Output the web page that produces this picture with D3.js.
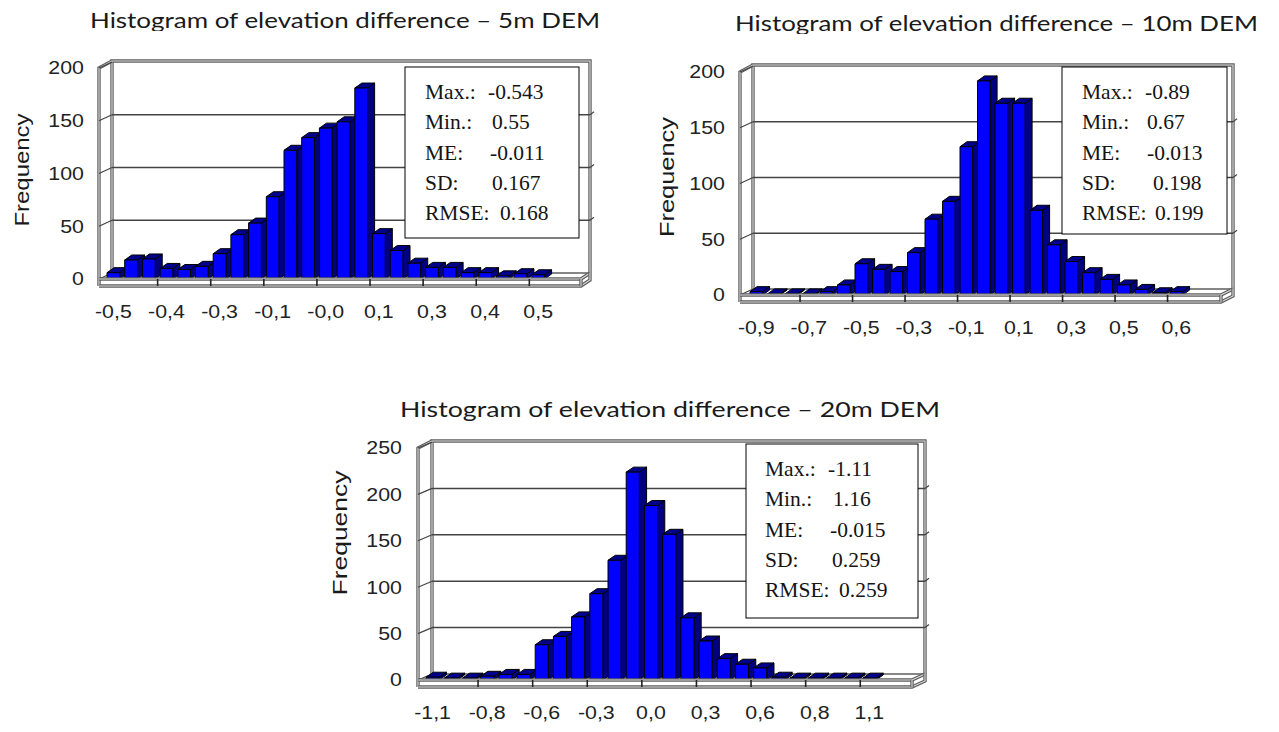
<!DOCTYPE html>
<html><head><meta charset="utf-8">
<script src="https://cdn.jsdelivr.net/npm/d3@7"></script>
<style>body{margin:0;background:#fff;overflow:hidden} svg{display:block}</style>
</head><body><svg id="c" width="1279" height="732"></svg>
<script>
// ---------- DATA ----------
const binIndex = d3.range(25);
const values5m  = [6,18,19,10,9,12,24,42,53,78,122,134,143,149,181,43,27,15,11,11,6,6,3,5,4];
const values10m = [3,1,1,1,3,9,28,23,21,38,68,84,133,192,172,172,76,45,30,20,14,9,5,2,3];
const values20m = [3,2,2,4,6,6,38,47,68,93,129,224,188,157,67,42,23,17,13,3,2,2,2,2,2];
const xLabels5m  = ["-0,5","-0,4","-0,3","-0,1","-0,0","0,1","0,3","0,4","0,5"];
const xLabels10m = ["-0,9","-0,7","-0,5","-0,3","-0,1","0,1","0,3","0,5","0,6"];
const xLabels20m = ["-1,1","-0,8","-0,6","-0,3","0,0","0,3","0,6","0,8","1,1"];
const yTicks5m  = [0,50,100,150,200];
const yTicks10m = [0,50,100,150,200];
const yTicks20m = [0,50,100,150,200,250];
const statNames = ["Max.:","Min.:","ME:","SD:","RMSE:"];
const stats5m  = ["-0.543","0.55","-0.011","0.167","0.168"];
const stats10m = ["-0.89","0.67","-0.013","0.198","0.199"];
const stats20m = ["-1.11","1.16","-0.015","0.259","0.259"];
const titles = ["Histogram of elevation difference \u2013 5m DEM",
                "Histogram of elevation difference \u2013 10m DEM",
                "Histogram of elevation difference \u2013 20m DEM"];
const yAxisTitle = "Frequency";

// ---------- LAYOUT ----------
const layouts = [
  {title:{x0:90,x1:600,base:28,clipTop:0,clipBot:31}, freq:{x:22,y:170,len:113}, yLabelX:84,
   y0:279, yTop:68, yMax:200, barStart:107, step:17.7, frontL:99, frontR:581, backR:590, dx:13, dy:-6,
   box:{x:405,y:67,w:174,h:171}, statX:425, valX:[488,492,490,492,500]},
  {title:{x0:735,x1:1258,base:31,clipTop:0,clipBot:34}, freq:{x:667,y:177,len:120}, yLabelX:725,
   y0:295, yTop:72, yMax:200, barStart:750, step:17.5, frontL:740, frontR:1221, backR:1233, dx:13, dy:-6,
   box:{x:1062,y:67,w:165,h:167}, statX:1082, valX:[1145,1147,1147,1153,1155]},
  {title:{x0:400,x1:940,base:417,clipTop:392,clipBot:421}, freq:{x:340,y:533,len:125}, yLabelX:402,
   y0:680, yTop:448, yMax:250, barStart:426, step:18.2, frontL:418, frontR:912, backR:925, dx:14, dy:-6,
   box:{x:746,y:444,w:172,h:174}, statX:765, valX:[828,833,830,832,839]}
];

const svg = d3.select("#c");
const defs = svg.append("defs");

function frameLine(g, pts) {
  const line = d3.line();
  g.append("path").attr("d", line(pts)).attr("fill","none").attr("stroke","#5e5e5e").attr("stroke-width",3.4);
  g.append("path").attr("d", line(pts)).attr("fill","none").attr("stroke","#dcdcdc").attr("stroke-width",1.1);
}

function stretchText(sel, factor) {
  sel.each(function(){
    const n = this.getComputedTextLength();
    d3.select(this).attr("textLength", n*factor).attr("lengthAdjust","spacingAndGlyphs");
  });
}

function drawChart(idx, values, xLabels, yTicks, stats, title, L) {
  const g = svg.append("g");
  const y = d3.scaleLinear().domain([0, L.yMax]).range([L.y0, L.yTop]);
  const xStart = L.barStart - 0.14*L.step;
  const x = d3.scaleBand().domain(binIndex).range([xStart, xStart + binIndex.length*L.step])
              .paddingInner(0.28).paddingOuter(0.14);
  const backL = L.frontL + L.dx;
  const topB = y(L.yMax) + L.dy - 1;
  const botB = L.y0 + L.dy;

  // title
  const cid = "clipT"+idx;
  defs.append("clipPath").attr("id",cid).append("rect")
    .attr("x",0).attr("y",L.title.clipTop).attr("width",1279).attr("height",L.title.clipBot-L.title.clipTop);
  g.append("text").attr("clip-path",`url(#${cid})`)
    .attr("x",L.title.x0).attr("y",L.title.base)
    .attr("font-family","Lato, 'Open Sans', sans-serif").attr("font-size",22).attr("fill","#1a1a1a")
    .attr("textLength",L.title.x1-L.title.x0).attr("lengthAdjust","spacingAndGlyphs")
    .text(title);

  // back wall & left wall
  const fr = g.append("g");
  frameLine(fr, [[backL, botB],[backL, topB],[L.backR, topB],[L.backR, botB]]);
  frameLine(fr, [[L.frontL, L.y0+7],[L.frontL, y(L.yMax)],[backL, topB]]);

  // gridlines
  const grid = g.append("g");
  yTicks.forEach(v => {
    if (v > 0 && v < L.yMax) {
      grid.append("line").attr("x1",backL).attr("x2",L.backR).attr("y1",y(v)+L.dy).attr("y2",y(v)+L.dy)
        .attr("stroke","#444").attr("stroke-width",1.5);
      grid.append("line").attr("x1",L.backR).attr("x2",L.backR+4).attr("y1",y(v)+L.dy).attr("y2",y(v)+L.dy-3)
        .attr("stroke","#444").attr("stroke-width",1.2);
    }
    grid.append("line").attr("x1",L.frontL).attr("x2",backL).attr("y1",y(v)).attr("y2",y(v)+L.dy)
      .attr("stroke","#444").attr("stroke-width",1.2);
  });
  grid.append("line").attr("x1",backL).attr("x2",L.backR).attr("y1",botB).attr("y2",botB)
    .attr("stroke","#5e5e5e").attr("stroke-width",1.4);

  // bars
  const bdx = 0.4*L.step, bdy = -5;
  const bars = g.append("g").attr("stroke","#000").attr("stroke-width",1).attr("stroke-linejoin","round");
  binIndex.forEach(i => {
    const x0 = x(i), w = x.bandwidth(), yt = y(values[i]);
    bars.append("path").attr("fill","#000080")
      .attr("d", `M${x0+w},${yt}L${x0+w+bdx},${yt+bdy}L${x0+w+bdx},${L.y0+bdy}L${x0+w},${L.y0}Z`);
    bars.append("path").attr("fill","#00008c")
      .attr("d", `M${x0},${yt}L${x0+bdx},${yt+bdy}L${x0+w+bdx},${yt+bdy}L${x0+w},${yt}Z`);
    bars.append("rect").attr("fill","#0000ff").attr("x",x0).attr("y",yt).attr("width",w).attr("height",L.y0-yt);
  });

  // floor front slab
  frameLine(g, [[L.frontL, L.y0],[L.frontR, L.y0],[L.backR, botB]]);
  frameLine(g, [[L.frontL, L.y0+7],[L.frontR, L.y0+7],[L.backR, botB+7],[L.backR, botB]]);
  frameLine(g, [[L.frontR, L.y0],[L.frontR, L.y0+7]]);
  // ticks
  binIndex.filter(i => i>0 && i%3===0).forEach(i => {
    const tx = xStart + i*L.step;
    g.append("line").attr("x1",tx).attr("x2",tx).attr("y1",L.y0).attr("y2",L.y0+7)
      .attr("stroke","#222").attr("stroke-width",1.6);
  });

  // y tick labels
  const yl = g.append("g").attr("font-family","'Liberation Sans', Arial, sans-serif").attr("font-size",17.5)
    .attr("fill","#222").attr("text-anchor","end");
  yl.selectAll("text").data(yTicks).join("text")
    .attr("x",L.yLabelX).attr("y",v => y(v)).attr("dy","0.36em").text(v => v)
    .call(stretchText, 1.22);

  // x tick labels
  const xl = g.append("g").attr("font-family","'Liberation Sans', Arial, sans-serif").attr("font-size",17.5)
    .attr("fill","#222").attr("text-anchor","middle");
  xl.selectAll("text").data(xLabels).join("text")
    .attr("x",(d,k) => x(k*3) + x.bandwidth()/2).attr("y",L.y0+39).text(d => d)
    .call(stretchText, 1.22);

  // y axis title
  g.append("text").attr("transform",`translate(${L.freq.x},${L.freq.y}) rotate(-90)`)
    .attr("text-anchor","middle").attr("dy","0.35em")
    .attr("font-family","'Liberation Sans', Arial, sans-serif").attr("font-size",20).attr("fill","#1a1a1a")
    .attr("textLength",L.freq.len).attr("lengthAdjust","spacingAndGlyphs")
    .text(yAxisTitle);

  // stats box
  g.append("rect").attr("x",L.box.x).attr("y",L.box.y).attr("width",L.box.w).attr("height",L.box.h)
    .attr("fill","#fff").attr("stroke","#000").attr("stroke-width",1);
  const st = g.append("g").attr("font-family","'Liberation Serif', 'Times New Roman', serif")
    .attr("font-size",21.5).attr("fill","#141414");
  statNames.forEach((nm, k) => {
    const by = L.box.y + 32 + k*30.3;
    st.append("text").attr("x",L.statX).attr("y",by).text(nm);
    st.append("text").attr("x",L.valX[k]).attr("y",by).text(stats[k]);
  });
}

drawChart(0, values5m, xLabels5m, yTicks5m, stats5m, titles[0], layouts[0]);
drawChart(1, values10m, xLabels10m, yTicks10m, stats10m, titles[1], layouts[1]);
drawChart(2, values20m, xLabels20m, yTicks20m, stats20m, titles[2], layouts[2]);
</script>
</body></html>
